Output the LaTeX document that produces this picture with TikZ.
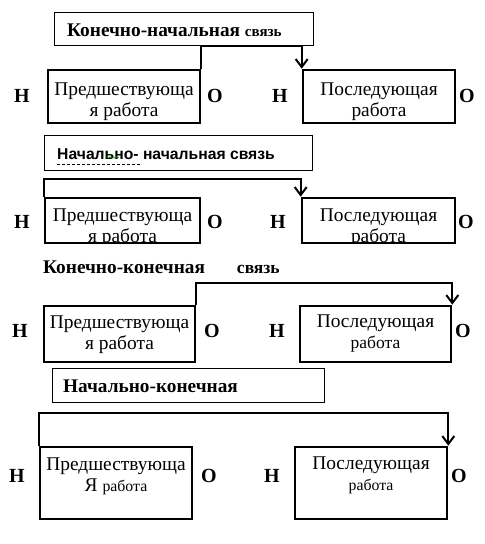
\documentclass[tikz,border=0pt]{standalone}
\usepackage{fontspec}
\setmainfont{Liberation Serif}
\newfontfamily\arialfont{Liberation Sans}
\usetikzlibrary{arrows.meta,decorations.pathmorphing}

\tikzset{
  job/.style={draw,line width=2.6pt,minimum width=152pt,minimum height=53pt,inner sep=0pt},
  jobtext/.style={align=center,inner sep=0pt,font=\fontsize{19.4}{21}\selectfont},
  side/.style={inner sep=0pt,anchor=base,font=\bfseries\fontsize{20}{20}\selectfont},
  titlebox/.style={draw,line width=0.8pt,minimum height=33pt,inner sep=0pt},
  titletext/.style={anchor=base west,inner sep=0pt,font=\bfseries\fontsize{19.3}{19}\selectfont},
  link/.style={line width=2pt,-{Straight Barb[length=8pt,width=12pt,line width=2pt]}}
}
\newcommand{\smallsz}{\fontsize{17.5}{17}\selectfont}
\newcommand{\tinysz}{\fontsize{15.8}{16}\selectfont}

\begin{document}
\begin{tikzpicture}[x=1pt,y=-1pt]
  \fill[white] (0,0) rectangle (485,544);
  \useasboundingbox (0,0) rectangle (485,544);

  % --- конечно-начальная
  \node[titlebox,minimum width=259pt] (t1) at (183.5,28.5) {};
  \node[titletext] (t1t) at (67,36) {Конечно-начальная {\fontsize{15}{15}\selectfont связь}};
  \node[job] (p1) at (124,96.5) {};
  \node[jobtext] (p1t) at (124,101.5) {Предшествующа\\я работа};
  \node[job] (n1) at (379,96.5) {};
  \node[jobtext] (n1t) at (379,101.5) {Последующая\\работа};
  \node[side] (h1a) at (22,102) {Н};
  \node[side] (o1a) at (215,102) {О};
  \node[side] (h1b) at (280,102) {Н};
  \node[side] (o1b) at (467,102) {О};
  \coordinate (top1) at (0,46);
  \draw[link] (p1.north east) -- (p1.north east |- top1) -| (n1.north west);

  % --- начально-начальная
  \node[titlebox,minimum width=268pt,minimum height=35pt] (t2) at (178,152.5) {};
  \node[titletext,font=\arialfont\bfseries\fontsize{15.7}{15}\selectfont] (t2t) at (57,159) {Начально- начальная связь};
  \draw[densely dashed,line width=0.8pt] (57,164) -- (140,164);
  \draw[green!50!black,line width=0.5pt,decorate,decoration={snake,amplitude=0.8pt,segment length=3pt}] (106,157.5) -- (119,157.5);
  \begin{scope}
    \clip (45,198) rectangle (200,243);
    \node[jobtext] (p2t) at (122.5,227.5) {Предшествующа\\я работа};
  \end{scope}
  \begin{scope}
    \clip (302,198) rectangle (455,243);
    \node[jobtext] (n2t) at (378.5,227.5) {Последующая\\работа};
  \end{scope}
  \node[job,minimum width=155pt,minimum height=45pt] (p2) at (122.5,220.5) {};
  \node[job,minimum width=153pt,minimum height=45pt] (n2) at (378.5,220.5) {};
  \node[side] (h2a) at (22,228) {Н};
  \node[side] (o2a) at (215,228) {О};
  \node[side] (h2b) at (278,228) {Н};
  \node[side] (o2b) at (466,228) {О};
  \coordinate (top2) at (0,179);
  \draw[link] (p2.north west) -- (p2.north west |- top2) -| (n2.north west);

  % --- конечно-конечная
  \node[titletext] (t3t) at (43,273) {Конечно-конечная\hspace{32pt}{\fontsize{17.5}{17}\selectfont связь}};
  \node[job,minimum width=151pt,minimum height=56pt] (p3) at (119.5,334) {};
  \node[jobtext] (p3t) at (119.5,334.5) {Предшествующа\\я работа};
  \node[job,minimum width=151pt,minimum height=56pt] (n3) at (375.5,334) {};
  \node[jobtext] (n3t) at (375.5,334) {Последующая\\{\smallsz работа}};
  \node[side] (h3a) at (20,337) {Н};
  \node[side] (o3a) at (212,337) {О};
  \node[side] (h3b) at (277,337) {Н};
  \node[side] (o3b) at (463,337) {О};
  \coordinate (top3) at (0,283);
  \draw[link] (p3.north east) -- (p3.north east |- top3) -| (n3.north east);

  % --- начально-конечная
  \node[titlebox,minimum width=272pt,minimum height=34pt] (t4) at (188,385) {};
  \node[titletext] (t4t) at (63,392) {Начально-конечная};
  \node[job,minimum height=72pt] (p4) at (116,483) {};
  \node[jobtext] (p4t) at (116,476) {Предшествующа\\Я {\tinysz работа}};
  \node[job,minimum height=72pt] (n4) at (371,483) {};
  \node[jobtext] (n4t) at (371,475) {Последующая\\{\tinysz работа}};
  \node[side] (h4a) at (17,482) {Н};
  \node[side] (o4a) at (209,482) {О};
  \node[side] (h4b) at (272,482) {Н};
  \node[side] (o4b) at (459,482) {О};
  \coordinate (top4) at (0,413);
  \draw[link] (p4.north west) -- (p4.north west |- top4) -| (n4.north east);
\end{tikzpicture}
\end{document}
